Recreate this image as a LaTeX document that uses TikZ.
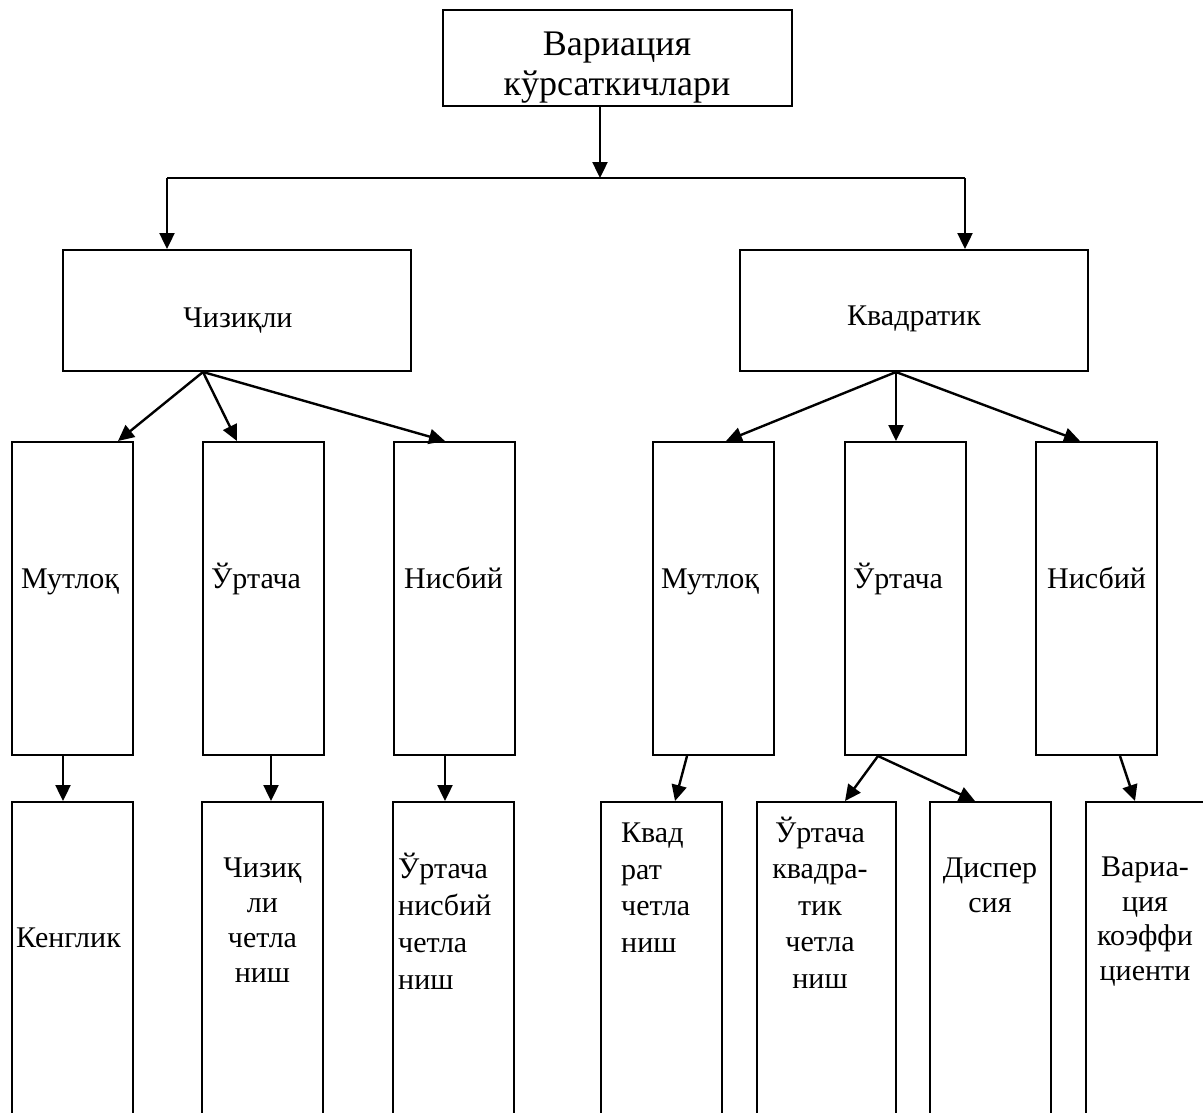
\documentclass[tikz,border=0pt]{standalone}
\usepackage{fontspec}
\setmainfont{Liberation Serif}
\usetikzlibrary{arrows.meta}
\begin{document}
\begin{tikzpicture}[x=1pt, y=-1pt,
  box/.style={draw, line width=2pt, inner sep=0pt},
  mid/.style={box, minimum width=121pt, minimum height=313pt},
  low/.style={box, minimum width=121pt, minimum height=340pt},
  txt/.style={inner sep=0pt, font=\fontsize{30}{35}\selectfont},
  arr/.style={line width=2.4pt, -{Triangle[length=16pt, width=15pt]}}]
\useasboundingbox (0,0) rectangle (1203,1112);
\clip (0,0) rectangle (1203,1112);
\node[box, minimum width=349pt, minimum height=96pt] (bx0) at (617.5,58){};
\node[txt, anchor=base, align=center, font=\fontsize{36}{40}\selectfont] (tx0) at (617,95){Вариация\\кўрсаткичлари};
\node[box, minimum width=348pt, minimum height=121pt] (bx1) at (237,310.5){};
\node[txt, anchor=base] (tx1) at (238,327){Чизиқли};
\node[box, minimum width=348pt, minimum height=121pt] (bx2) at (914,310.5){};
\node[txt, anchor=base] (tx2) at (914,325){Квадратик};
\coordinate (c0) at (600,178);
\coordinate (c1) at (167,178);
\coordinate (c2) at (965,178);
\draw[arr] (bx0.south -| c0) -- (c0);
\draw[line width=2.4pt] (c1) -- (c2);
\draw[arr] (c1) -- (c1 |- bx1.north);
\draw[arr] (c2) -- (c2 |- bx2.north);
\node[mid] (bx3) at (72.5,598.5){};
\node[txt, anchor=base west] (tx3) at (21,588){Мутлоқ};
\node[mid] (bx4) at (263,598.5){};
\node[txt, anchor=base west] (tx4) at (211,588){Ўртача};
\node[mid] (bx5) at (454,598.5){};
\node[txt, anchor=base west] (tx5) at (404,588){Нисбий};
\node[mid] (bx6) at (713.5,598.5){};
\node[txt, anchor=base west] (tx6) at (661,588){Мутлоқ};
\node[mid] (bx7) at (905,598.5){};
\node[txt, anchor=base west] (tx7) at (853,588){Ўртача};
\node[mid] (bx8) at (1096.5,598.5){};
\node[txt, anchor=base west] (tx8) at (1047,588){Нисбий};
\draw[arr] ([xshift=-34pt]bx1.south) -- ([xshift=45.5pt]bx3.north);
\draw[arr] ([xshift=-34pt]bx1.south) -- ([xshift=-26pt]bx4.north);
\draw[arr] ([xshift=-34pt]bx1.south) -- ([xshift=-9pt]bx5.north);
\draw[arr] ([xshift=-18pt]bx2.south) -- ([xshift=12.5pt]bx6.north);
\draw[arr] ([xshift=-18pt]bx2.south) -- ([xshift=-9pt]bx7.north);
\draw[arr] ([xshift=-18pt]bx2.south) -- ([xshift=-16.5pt]bx8.north);
\node[low] (bx9) at (72.5,972){};
\node[txt, anchor=base west] (tx9) at (16,947){Кенглик};
\node[low] (bx10) at (262.5,972){};
\node[txt, anchor=base, align=center] (tx10) at (262.5,982){Чизиқ\\ли\\четла\\ниш};
\node[low] (bx11) at (453,972){};
\node[txt, anchor=base west, align=left, font=\fontsize{30}{37}\selectfont] (tx11) at (398,989){Ўртача\\нисбий\\четла\\ниш};
\node[low] (bx12) at (661,972){};
\node[txt, anchor=base west, align=left, font=\fontsize{30}{36.5}\selectfont] (tx12) at (621,952){Квад\\рат\\четла\\ниш};
\node[low, minimum width=139pt] (bx13) at (826.5,972){};
\node[txt, anchor=base, align=center, font=\fontsize{30}{36.5}\selectfont] (tx13) at (820,988){Ўртача\\квадра-\\тик\\четла\\ниш};
\node[low] (bx14) at (990.5,972){};
\node[txt, anchor=base, align=center] (tx14) at (990,912){Диспер\\сия};
\node[low] (bx15) at (1146,972){};
\node[txt, anchor=base, align=center, font=\fontsize{30}{34.5}\selectfont] (tx15) at (1145,980){Вариа-\\ция\\коэффи\\циенти};
\draw[arr] ([xshift=-9.5pt]bx3.south) -- ([xshift=-9.5pt]bx9.north);
\draw[arr] ([xshift=8pt]bx4.south) -- ([xshift=8.5pt]bx10.north);
\draw[arr] ([xshift=-9pt]bx5.south) -- ([xshift=-8pt]bx11.north);
\draw[arr] ([xshift=-26.5pt]bx6.south) -- ([xshift=14pt]bx12.north);
\draw[arr] ([xshift=-27pt]bx7.south) -- ([xshift=18.5pt]bx13.north);
\draw[arr] ([xshift=-27pt]bx7.south) -- ([xshift=-15.5pt]bx14.north);
\draw[arr] ([xshift=23.5pt]bx8.south) -- ([xshift=-11pt]bx15.north);
\end{tikzpicture}
\end{document}
